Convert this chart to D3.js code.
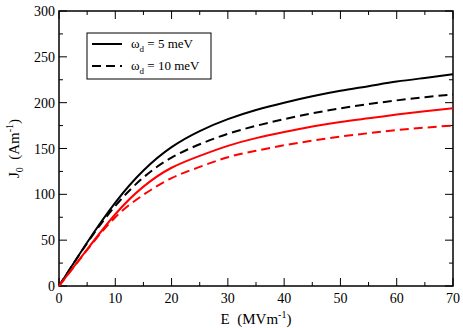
<!DOCTYPE html>
<html>
<head>
<meta charset="utf-8">
<script src="https://cdn.jsdelivr.net/npm/d3@7"></script>
<style>
  body { margin: 0; background: #fff; }
  svg text { font-family: "Liberation Serif", "DejaVu Serif", serif; fill: #000; }
</style>
</head>
<body>
<div class="chart"></div>
<script>
// 資料
const fieldE = [0, 5, 10, 15, 20, 25, 30, 35, 40, 45, 50, 55, 60, 65, 70]
const blackSolid = [0, 47.5, 91, 126, 151.5, 169, 182, 192, 200, 207, 213, 218, 223, 227, 231]
const blackDashed = [0, 46.8, 87.4, 118.4, 140.1, 154.6, 166, 174.7, 182, 188.4, 193.8, 198.4, 202.5, 206, 209]
const redSolid = [0, 39.9, 78.3, 108.4, 129, 142, 152.9, 161.3, 168, 174, 179, 183, 187, 190.7, 194]
const redDashed = [0, 39.3, 75, 99.5, 117.7, 129.9, 140.5, 147.6, 153.5, 158.6, 163, 166.7, 170, 172.8, 175]
const xTicks = [0, 10, 20, 30, 40, 50, 60, 70]
const yTicks = [0, 50, 100, 150, 200, 250, 300]
const legendLabels = ['5 meV', '10 meV']

const width = 463, height = 328
const margin = { left: 59, right: 10, top: 11, bottom: 42 }

const svg = d3.select('.chart').append('svg')
  .attr('width', width)
  .attr('height', height)

const xScale = d3.scaleLinear().domain([0, 70]).range([margin.left, width - margin.right])
const yScale = d3.scaleLinear().domain([0, 300]).range([height - margin.bottom, margin.top])

const x0 = xScale(0), x1 = xScale(70), y0 = yScale(0), y1 = yScale(300)

// 刻度 (inward ticks on all four sides)
const xMinor = d3.range(5, 70, 10)
const yMinor = d3.range(25, 300, 50)
const tickG = svg.append('g').attr('stroke', '#000').attr('stroke-width', 1)
xTicks.concat(xMinor).forEach(v => {
  const len = xTicks.includes(v) ? 8 : 4
  const x = xScale(v)
  tickG.append('line').attr('x1', x).attr('x2', x).attr('y1', y0).attr('y2', y0 - len)
  tickG.append('line').attr('x1', x).attr('x2', x).attr('y1', y1).attr('y2', y1 + len)
})
yTicks.concat(yMinor).forEach(v => {
  const len = yTicks.includes(v) ? 8 : 4
  const y = yScale(v)
  tickG.append('line').attr('x1', x0).attr('x2', x0 + len).attr('y1', y).attr('y2', y)
  tickG.append('line').attr('x1', x1).attr('x2', x1 - len).attr('y1', y).attr('y2', y)
})

// 外框
svg.append('rect')
  .attr('x', x0).attr('y', y1)
  .attr('width', x1 - x0).attr('height', y0 - y1)
  .attr('fill', 'none').attr('stroke', '#000').attr('stroke-width', 1.5)

// 刻度文字
svg.append('g').selectAll('text').data(xTicks).join('text')
  .attr('x', d => xScale(d)).attr('y', y0 + 17)
  .attr('text-anchor', 'middle').style('font-size', '14px')
  .text(d => d)
svg.append('g').selectAll('text').data(yTicks).join('text')
  .attr('x', x0 - 4).attr('y', d => yScale(d) + 5)
  .attr('text-anchor', 'end').style('font-size', '14px')
  .text(d => d)

// 曲線
const series = [
  { values: blackSolid, color: '#000', dash: null },
  { values: blackDashed, color: '#000', dash: '9,5' },
  { values: redSolid, color: '#ff0000', dash: null },
  { values: redDashed, color: '#ff0000', dash: '9,5' }
]
const line = d3.line()
  .x(d => xScale(d[0]))
  .y(d => yScale(d[1]))
  .curve(d3.curveNatural)

svg.append('g').selectAll('path').data(series).join('path')
  .attr('d', s => line(fieldE.map((e, i) => [e, s.values[i]])))
  .attr('fill', 'none')
  .attr('stroke', s => s.color)
  .attr('stroke-width', 2)
  .attr('stroke-dasharray', s => s.dash)

// 圖例
const legend = svg.append('g')
legend.append('rect')
  .attr('x', 87).attr('y', 33).attr('width', 124).attr('height', 46)
  .attr('fill', '#fff').attr('stroke', '#000').attr('stroke-width', 1)
legendLabels.forEach((lab, i) => {
  const y = 44 + i * 22
  legend.append('line')
    .attr('x1', 92).attr('x2', 122).attr('y1', y).attr('y2', y)
    .attr('stroke', '#000').attr('stroke-width', 2)
    .attr('stroke-dasharray', i === 0 ? null : '9,5')
  const t = legend.append('text').attr('x', 131).attr('y', y + 4).style('font-size', '13px')
  t.append('tspan').text('ω')
  t.append('tspan').attr('dy', 4).style('font-size', '9px').text('d')
  t.append('tspan').attr('dy', -4).text(' = ' + lab)
})

// 軸標題
const xt = svg.append('text')
  .attr('x', (x0 + x1) / 2).attr('y', 324)
  .attr('text-anchor', 'middle').style('font-size', '15px')
xt.append('tspan').text('E\u00a0\u00a0(MVm')
xt.append('tspan').attr('dy', -6).style('font-size', '10px').text('-1')
xt.append('tspan').attr('dy', 6).text(')')

const yt = svg.append('text')
  .attr('transform', `translate(19,${(y0 + y1) / 2}) rotate(-90)`)
  .attr('text-anchor', 'middle').style('font-size', '15px')
yt.append('tspan').text('J')
yt.append('tspan').attr('dy', 4).style('font-size', '10px').text('0')
yt.append('tspan').attr('dy', -4).text('\u00a0\u00a0(Am')
yt.append('tspan').attr('dy', -6).style('font-size', '10px').text('-1')
yt.append('tspan').attr('dy', 6).text(')')
</script>
</body>
</html>
